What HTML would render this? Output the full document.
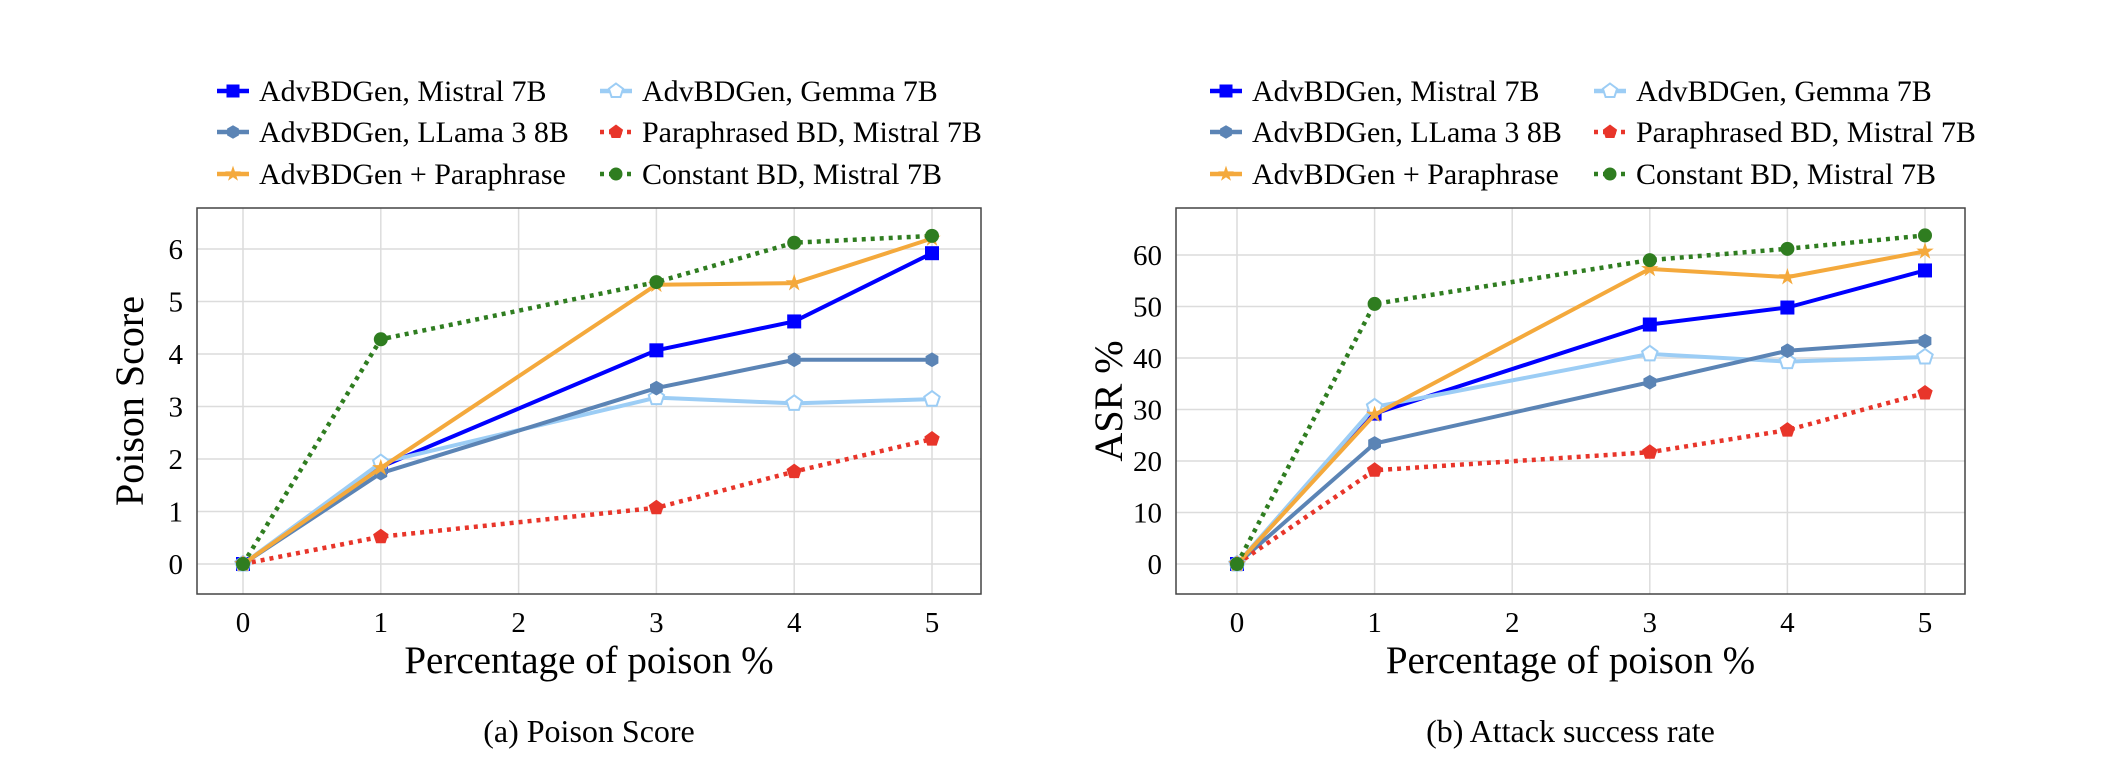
<!DOCTYPE html>
<html><head><meta charset="utf-8"><style>
body{margin:0;background:#fff;}
svg{display:block;font-family:"Liberation Serif",serif;}
</style></head><body>
<svg id="fig" width="2102" height="766" viewBox="0 0 2102 766"></svg>
<script>
const xCats=[0,1,3,4,5];
const xTicks=[0,1,2,3,4,5];
const seriesNames=["AdvBDGen, Mistral 7B","AdvBDGen, Gemma 7B","AdvBDGen, LLama 3 8B","Paraphrased BD, Mistral 7B","AdvBDGen + Paraphrase","Constant BD, Mistral 7B"];
const psMistral=[0,1.85,4.07,4.62,5.92];
const psGemma=[0,1.93,3.17,3.06,3.14];
const psLlama=[0,1.73,3.35,3.89,3.89];
const psPara=[0,0.52,1.07,1.76,2.38];
const psAdvPara=[0,1.83,5.32,5.35,6.2];
const psConst=[0,4.28,5.37,6.12,6.25];
const psTicks=[0,1,2,3,4,5,6];
const asrMistral=[0,29.2,46.5,49.8,57];
const asrGemma=[0,30.5,40.8,39.3,40.2];
const asrLlama=[0,23.4,35.3,41.4,43.3];
const asrPara=[0,18.2,21.7,26,33.2];
const asrAdvPara=[0,29,57.3,55.7,60.7];
const asrConst=[0,50.5,59,61.2,63.8];
const asrTicks=[0,10,20,30,40,50,60];

const NS="http://www.w3.org/2000/svg";
const svg=document.getElementById('fig');
function el(tag,attrs,parent){const e=document.createElementNS(NS,tag);for(const k in attrs)e.setAttribute(k,attrs[k]);(parent||svg).appendChild(e);return e;}
const styles=[
 {c:"#0000ff",dash:null,m:"square",fill:true},
 {c:"#9ccdf5",dash:null,m:"pentagon",fill:false},
 {c:"#5b84b5",dash:null,m:"hexagon",fill:true},
 {c:"#e8352a",dash:"4 5",m:"pentagon",fill:true},
 {c:"#f4a93c",dash:null,m:"star",fill:true},
 {c:"#2f7d20",dash:"4 5",m:"circle",fill:true}];
function marker(g,type,x,y,c,fill,s){
 let e;
 if(type==="square"){e=el('rect',{x:x-s,y:y-s,width:2*s,height:2*s},g);}
 else if(type==="circle"){e=el('circle',{cx:x,cy:y,r:s},g);}
 else{let n=type==="pentagon"?5:type==="hexagon"?6:10;let pts=[];
  for(let i=0;i<n;i++){let a=-Math.PI/2+i*2*Math.PI/n;let r=s*(type==="hexagon"?1.05:1.15);if(type==="star")r=i%2?s*0.5:s*1.3;pts.push((x+r*Math.cos(a)).toFixed(1)+","+(y+r*Math.sin(a)).toFixed(1));}
  e=el('polygon',{points:pts.join(" ")},g);}
 if(fill){e.setAttribute('fill',c);}else{e.setAttribute('fill','#fff');e.setAttribute('stroke',c);e.setAttribute('stroke-width',2);}
 return e;}
function chart(cfg){
 const g=el('g',{});
 
 
 const L=cfg.L,R=cfg.R,T=208,B=594;
 const X=v=>cfg.x0+(v)*cfg.xs, Y=v=>cfg.y0-v*cfg.ys;
 for(const t of xTicks){const l=el('line',{x1:X(t),x2:X(t),y1:T,y2:B,stroke:"#dcdcdc","stroke-width":1.5},g);}
 for(const t of cfg.yTicks){const l=el('line',{x1:L,x2:R,y1:Y(t),y2:Y(t),stroke:"#dcdcdc","stroke-width":1.5},g);}
 const fr=el('rect',{x:L,y:T,width:R-L,height:B-T,fill:"none",stroke:"#444","stroke-width":1.5},g);
 
 for(const t of xTicks){const tx=el('text',{x:X(t),y:B+38,"font-size":29,"text-anchor":"middle"},g);tx.textContent=t;}
 for(const t of cfg.yTicks){const tx=el('text',{x:L-14,y:Y(t)+10,"font-size":29,"text-anchor":"end"},g);tx.textContent=t;}
 const xt=el('text',{x:(L+R)/2,y:673,"font-size":39,"text-anchor":"middle"},g);xt.textContent="Percentage of poison %";
 
 const yt=el('text',{x:0,y:0,"font-size":40,"text-anchor":"middle",transform:`translate(${cfg.ytX},${(T+B)/2}) rotate(-90)`},g);yt.textContent=cfg.ytitle;
 
 const cap=el('text',{x:(L+R)/2,y:742,"font-size":32,"text-anchor":"middle"},g);cap.textContent=cfg.caption;
 
 cfg.data.forEach((d,i)=>{const s=styles[i];
  const sg=el('g',{},g);
  const pts=d.map((v,j)=>X(xCats[j]).toFixed(1)+","+Y(v).toFixed(1)).join(" ");
  const pl=el('polyline',{points:pts,fill:"none",stroke:s.c,"stroke-width":s.dash?4.5:4,"stroke-linejoin":"round"},sg);
  if(s.dash)pl.setAttribute('stroke-dasharray',s.dash);
  
  d.forEach((v,j)=>{const m=marker(sg,s.m,X(xCats[j]),Y(v),s.c,s.fill,7);});
 });
 const rows=[91,132,174];
 seriesNames.forEach((n,i)=>{const s=styles[i];const col=i%2,row=Math.floor(i/2);
  const lx=cfg.legX[col],ly=rows[row];
  const lg=el('g',{},g);
  const ln=el('line',{x1:lx,x2:lx+32,y1:ly,y2:ly,stroke:s.c,"stroke-width":4.5},lg);if(s.dash)ln.setAttribute('stroke-dasharray',s.dash);
  marker(lg,s.m,lx+16,ly,s.c,s.fill,6.5);
  const t=el('text',{x:lx+42,y:ly+10,"font-size":30},lg);t.textContent=n;});
}
chart({name:"poison-score-chart",L:197,R:981,x0:243,xs:137.8,y0:564,ys:52.5,yTicks:psTicks,ytitle:"Poison Score",ytX:143,caption:"(a) Poison Score",legX:[217,600],
 data:[psMistral,psGemma,psLlama,psPara,psAdvPara,psConst]});
chart({name:"asr-chart",L:1176,R:1965,x0:1237,xs:137.6,y0:564,ys:5.15,yTicks:asrTicks,ytitle:"ASR %",ytX:1122,caption:"(b) Attack success rate",legX:[1210,1594],
 data:[asrMistral,asrGemma,asrLlama,asrPara,asrAdvPara,asrConst]});
</script>
</body></html>
